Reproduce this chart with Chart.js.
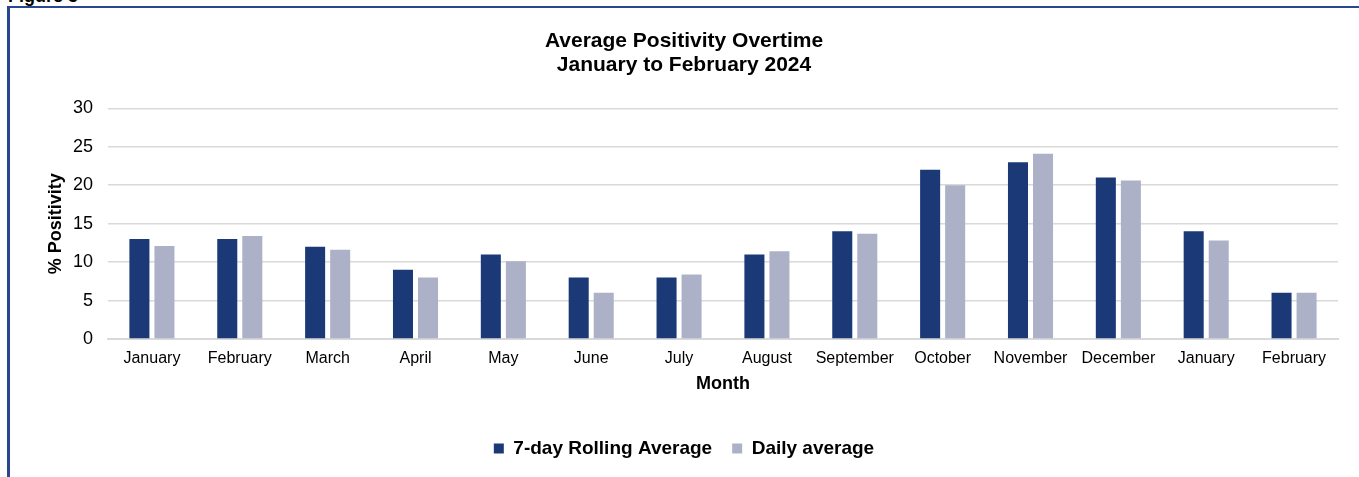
<!DOCTYPE html>
<html>
<head>
<meta charset="utf-8">
<script src="https://cdn.jsdelivr.net/npm/chart.js@4.4.1/dist/chart.umd.min.js"></script>
<style>
  html, body { margin: 0; padding: 0; background: #ffffff; }
  #wrap { position: relative; width: 1359px; height: 477px; overflow: hidden; }
  #fig { position: absolute; left: 8px; top: -14px; font: bold 18px "Liberation Sans", Arial, sans-serif; color: #000; }
  #frame { position: absolute; left: 7px; top: 6px; width: 1360px; height: 480px;
           border-top: 2px solid #2A4690; border-left: 3px solid #2A4690; box-sizing: border-box; }
  #c { position: absolute; left: 0; top: 0; }
</style>
</head>
<body>
<div id="wrap">
  <div id="fig">Figure 3</div>
  <div id="frame"></div>
  <canvas id="c" width="1359" height="477"></canvas>
</div>
<script>
const categories = ["January","February","March","April","May","June","July","August","September","October","November","December","January","February"];
const rollingAvg = [13, 13, 12, 9, 11, 8, 8, 11, 14, 22, 23, 21, 14, 6];
const dailyAvg = [12.1, 13.4, 11.6, 8.0, 10.1, 6.0, 8.4, 11.4, 13.7, 20.0, 24.1, 20.6, 12.8, 6.0];
const yTicks = [0, 5, 10, 15, 20, 25, 30];
const titleLines = ["Average Positivity Overtime", "January to February 2024"];

const FONT = "'Liberation Sans', Arial, sans-serif";
Chart.defaults.font.family = FONT;
Chart.defaults.color = "#000";

new Chart(document.getElementById("c"), {
  type: "bar",
  data: {
    labels: categories,
    datasets: [
      { label: "7-day Rolling Average", data: rollingAvg, backgroundColor: "#1B3877",
        categoryPercentage: 0.57, barPercentage: 0.8 },
      { label: "Daily average", data: dailyAvg, backgroundColor: "#ADB1C8",
        categoryPercentage: 0.57, barPercentage: 0.8 }
    ]
  },
  options: {
    responsive: false,
    animation: false,
    layout: { padding: { left: 30, right: 21, top: 29, bottom: 9 } },
    plugins: {
      tooltip: { enabled: false },
      title: {
        display: true, text: titleLines, color: "#000",
        font: { size: 21, weight: "bold", lineHeight: 1.15 },
        padding: { top: 0, bottom: 31 }
      },
      legend: {
        position: "bottom",
        labels: { boxWidth: 10, boxHeight: 10, padding: 20, color: "#000",
                  font: { size: 19, weight: "bold" } }
      }
    },
    scales: {
      x: {
        grid: { display: false, drawTicks: false },
        border: { color: "#D9D9D9", width: 2 },
        ticks: { font: { size: 16 }, padding: 10, maxRotation: 0, autoSkip: false },
        title: { display: true, text: "Month", font: { size: 18, weight: "bold" }, padding: { top: 4, bottom: 24 } },
        afterFit: (s) => { s.height = 80; }
      },
      y: {
        min: 0, max: 30,
        afterBuildTicks: (s) => { s.ticks = yTicks.map(v => ({ value: v })); },
        grid: { color: "#D9D9D9", lineWidth: 1.5, drawTicks: false },
        border: { display: false },
        ticks: { font: { size: 18 }, padding: 15 },
        title: { display: true, text: "% Positivity", font: { size: 18, weight: "bold" }, padding: { top: 15, bottom: 0 } },
        afterFit: (s) => { s.width = 78; }
      }
    }
  }
});
</script>
</body>
</html>
